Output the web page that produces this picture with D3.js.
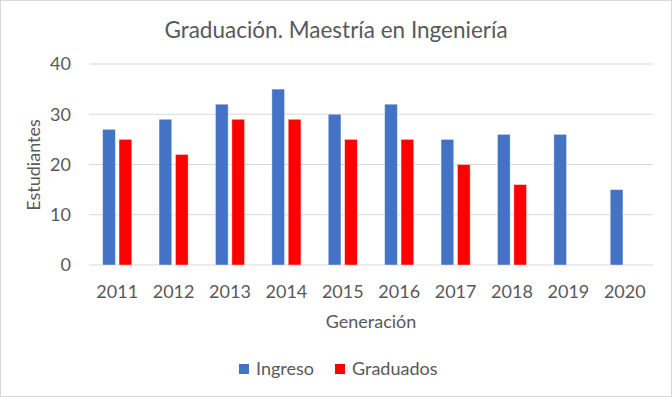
<!DOCTYPE html>
<html>
<head>
<meta charset="utf-8">
<script src="https://cdn.jsdelivr.net/npm/d3@7"></script>
<style>
  body { margin: 0; background: #fff; }
  text { font-family: Lato, "Open Sans", sans-serif; fill: #595959; }
</style>
</head>
<body>
<script>
var width = 672;
var height = 397;

var years = ["2011", "2012", "2013", "2014", "2015", "2016", "2017", "2018", "2019", "2020"];
var ingreso = [27, 29, 32, 35, 30, 32, 25, 26, 26, 15];
var graduados = [25, 22, 29, 29, 25, 25, 20, 16, null, null];
var yTicks = [0, 10, 20, 30, 40];
var seriesNames = ["Ingreso", "Graduados"];
var colors = ["#4472C4", "#FF0000"];

var margin = { top: 64, right: 19, bottom: 132, left: 89 };

var svg = d3.select("body").append("svg")
  .attr("width", width)
  .attr("height", height);

svg.append("rect")
  .attr("x", 0.5).attr("y", 0.5)
  .attr("width", width - 1).attr("height", height - 1)
  .attr("fill", "#fff").attr("stroke", "#D9D9D9");

var x = d3.scaleBand()
  .domain(years)
  .range([margin.left, width - margin.right]);

var y = d3.scaleLinear()
  .domain([0, 40])
  .range([height - margin.bottom, margin.top]);

// gridlines
svg.append("g").selectAll("line")
  .data(yTicks)
  .enter().append("line")
  .attr("x1", margin.left).attr("x2", width - margin.right)
  .attr("y1", function (d) { return y(d); })
  .attr("y2", function (d) { return y(d); })
  .attr("stroke", "#D9D9D9").attr("stroke-width", 1);

// y tick labels
svg.append("g").selectAll("text")
  .data(yTicks)
  .enter().append("text")
  .attr("x", margin.left - 18)
  .attr("y", function (d) { return y(d); })
  .attr("dy", "0.35em")
  .attr("text-anchor", "end")
  .attr("font-size", 18)
  .text(function (d) { return d; });

// x tick labels
svg.append("g").selectAll("text")
  .data(years)
  .enter().append("text")
  .attr("x", function (d) { return x(d) + x.bandwidth() / 2; })
  .attr("y", y(0) + 33)
  .attr("text-anchor", "middle")
  .attr("font-size", 18)
  .text(function (d) { return d; });

// bars
var barW = 12.7, gap = 3.7;
var series = [ingreso, graduados];
series.forEach(function (vals, s) {
  svg.append("g").selectAll("rect")
    .data(years.map(function (yr, i) { return { year: yr, v: vals[i] }; })
      .filter(function (d) { return d.v != null; }))
    .enter().append("rect")
    .attr("x", function (d) {
      var c = x(d.year) + x.bandwidth() / 2;
      return s === 0 ? c - gap / 2 - barW : c + gap / 2;
    })
    .attr("y", function (d) { return y(d.v); })
    .attr("width", barW)
    .attr("height", function (d) { return y(0) - y(d.v); })
    .attr("fill", colors[s])
    .attr("stroke", "#fff").attr("stroke-opacity", 0.5).attr("stroke-width", 0.8);
});

// title
svg.append("text")
  .attr("x", 336).attr("y", 38)
  .attr("text-anchor", "middle")
  .attr("font-size", 22.5)
  .text("Graduación. Maestría en Ingeniería");

// axis titles
svg.append("text")
  .attr("x", 371).attr("y", 328)
  .attr("text-anchor", "middle")
  .attr("font-size", 18)
  .text("Generación");

svg.append("text")
  .attr("transform", "translate(40,165) rotate(-90)")
  .attr("text-anchor", "middle")
  .attr("font-size", 18)
  .text("Estudiantes");

// legend
var legendX = [239, 335];
var lg = svg.append("g").selectAll("g")
  .data(seriesNames)
  .enter().append("g")
  .attr("transform", function (d, i) { return "translate(" + legendX[i] + ",364)"; });
lg.append("rect").attr("width", 10).attr("height", 10)
  .attr("fill", function (d, i) { return colors[i]; });
lg.append("text").attr("x", 17).attr("y", 5).attr("dy", "0.35em")
  .attr("font-size", 18)
  .text(function (d) { return d; });
</script>
</body>
</html>
